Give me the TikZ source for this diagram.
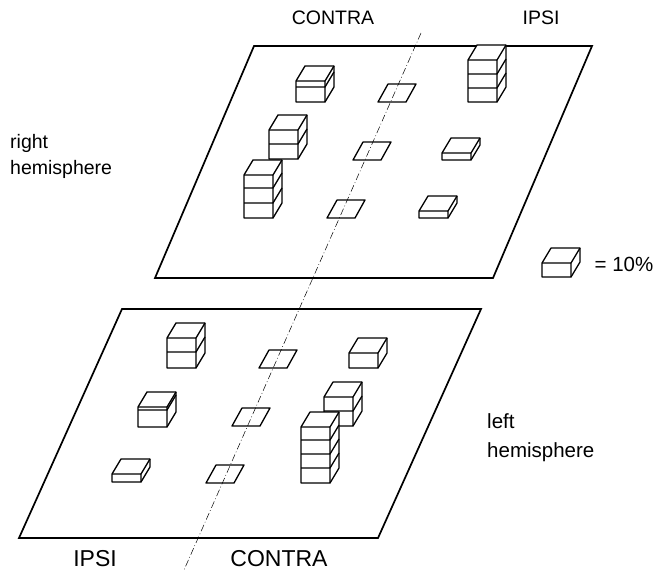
\documentclass[tikz,border=0pt]{standalone}
\usepackage{fontspec}
\setmainfont{Liberation Sans}
\begin{document}
\begin{tikzpicture}[x=1pt,y=-1pt,
  plane/.style={line width=1.7pt,line join=miter},
  cube/.style={line width=1.3pt,line join=round,fill=white},
  tile/.style={line width=1.3pt,line join=round},
  midline/.style={line width=0.5pt,dash pattern=on 7pt off 2.5pt on 0.8pt off 2.5pt},
  lbl/.style={font=\fontsize{19.5}{22}\selectfont,inner sep=0pt},
  biglbl/.style={font=\fontsize{23}{26}\selectfont,inner sep=0pt}]
\useasboundingbox (0,0) rectangle (658,581);

% a column of blocks: front-left x, base y, top y, list of divider heights
\newcommand\blockcol[4]{%
  \draw[cube] (#1,#2) -- (#1+29,#2) -- (#1+38,#2-15) -- (#1+38,#3-15)
    -- (#1+9,#3-15) -- (#1,#3) -- cycle;
  \draw[cube,fill=none] (#1,#3) -- (#1+29,#3) -- (#1+38,#3-15)
    (#1+29,#3) -- (#1+29,#2);
  \foreach \d in {#4} {\draw[cube,fill=none] (#1,\d) -- (#1+29,\d) -- (#1+38,\d-15);}%
}
% an empty tile on the plane: front-left x, base y
\newcommand\tilesq[2]{%
  \draw[tile] (#1,#2) -- (#1+28,#2) -- (#1+38,#2-18) -- (#1+10,#2-18) -- cycle;}

% the two hemisphere planes
\draw[plane] (254,46) coordinate (rtl) -- (592,46) coordinate (rtr)
  -- (493,278) coordinate (rbr) -- (155,278) coordinate (rbl) -- cycle;
\draw[plane] (122,309) coordinate (ltl) -- (481,309) coordinate (ltr)
  -- (378,538) coordinate (lbr) -- (19,538) coordinate (lbl) -- cycle;

% midline between the IPSI and CONTRA sides
\coordinate (mtop) at (421,33);
\coordinate (mbot) at (184,570);
\draw[midline] (mtop) -- (mbot);

% right hemisphere
\blockcol{296}{102}{81}{87}
\tilesq{378}{102}
\blockcol{468}{102}{60}{88,74}
\blockcol{269}{159}{130}{144}
\tilesq{353}{160}
\blockcol{442}{160}{153}{}
\blockcol{244}{218}{175}{203,188}
\tilesq{327}{218}
\blockcol{419}{218}{211}{}

% left hemisphere
\blockcol{167}{368}{338}{352}
\tilesq{259}{368}
\blockcol{349}{368}{353}{}
\blockcol{138}{427}{407}{410}
\tilesq{232}{426}
\blockcol{324}{426}{397}{411}
\blockcol{112}{482}{474}{}
\tilesq{206}{483}
\blockcol{301}{483}{427}{468,454,440}

% legend block
\blockcol{542}{277}{263}{}

% labels
\node[lbl] (tcontra) at (333,18) {CONTRA};
\node[lbl] (tipsi) at (541,18) {IPSI};
\node[lbl,anchor=west,align=left] (rh) at (10,156) {right\\[4pt]hemisphere};
\node[lbl,font=\fontsize{20.5}{22}\selectfont] (leg) at (624,264) {= 10\%};
\node[lbl,font=\fontsize{20.5}{24}\selectfont,anchor=west,align=left] (lh) at (487,438) {left\\[5pt]hemisphere};
\node[biglbl] (bipsi) at (95,559) {IPSI};
\node[biglbl] (bcontra) at (279,559) {CONTRA};
\end{tikzpicture}
\end{document}
